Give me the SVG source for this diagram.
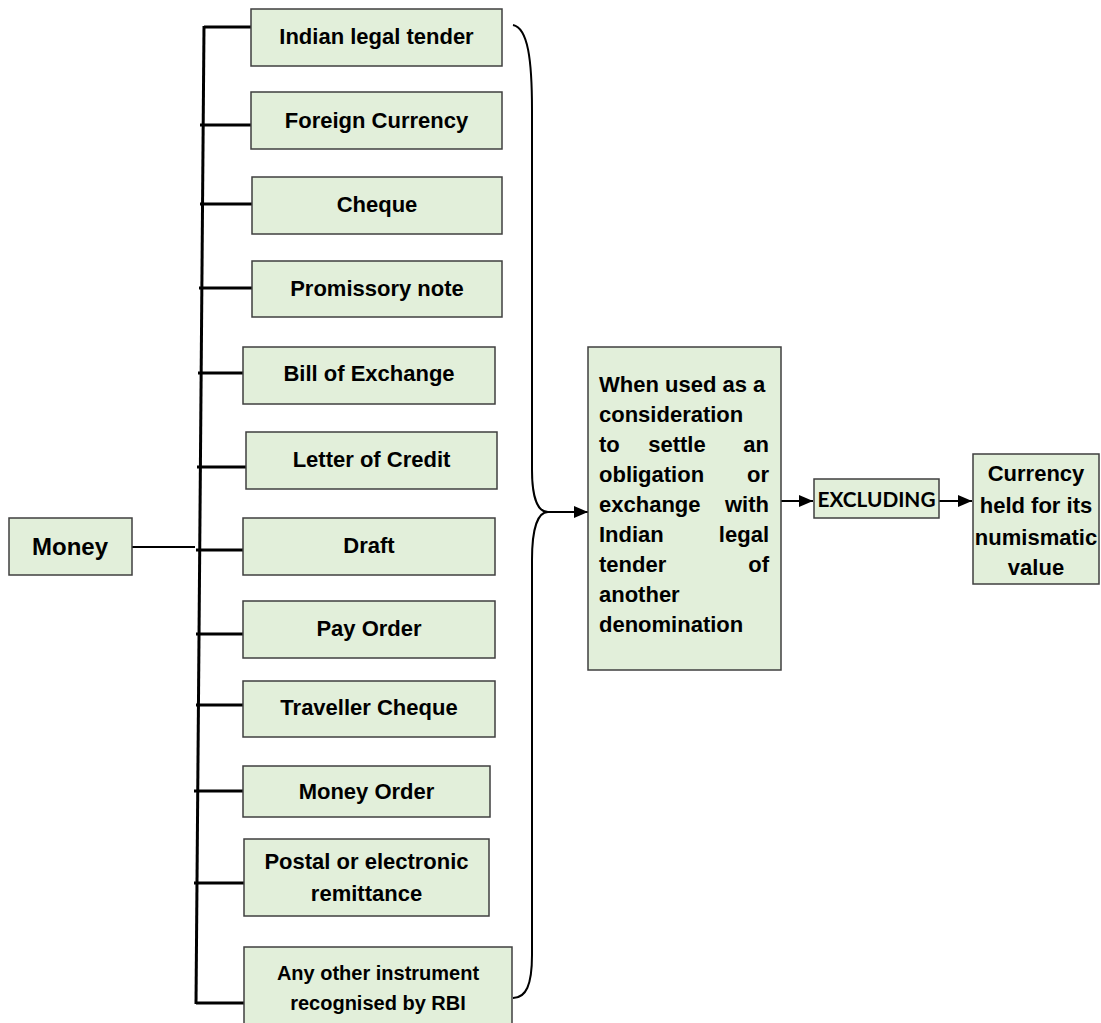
<svg xmlns="http://www.w3.org/2000/svg" width="1101" height="1023" viewBox="0 0 1101 1023">
<style>
.box{fill:#e2efda;stroke:#3f3f3f;stroke-width:1.5}
.t{font-family:"Liberation Sans",Arial,sans-serif;font-weight:bold;font-size:22px;fill:#000}
.c{text-anchor:middle}
.e{text-anchor:end}
.ln{stroke:#000;stroke-width:3;fill:none}
.thin{stroke:#000;stroke-width:2;fill:none}
</style>
<defs>
<marker id="arr" viewBox="0 0 14 12" refX="14" refY="6" markerWidth="14" markerHeight="12" markerUnits="userSpaceOnUse" orient="auto">
<path d="M0,0 L14,6 L0,12 z" fill="#000"/>
</marker>
</defs>
<rect width="1101" height="1023" fill="#fff"/>
<g id="connectors">
<line class="ln" x1="204" y1="26" x2="196" y2="1004"/>
<line class="ln" x1="204" y1="27" x2="251" y2="27"/>
<line class="ln" x1="200" y1="125" x2="251" y2="125"/>
<line class="ln" x1="200" y1="204" x2="252" y2="204"/>
<line class="ln" x1="199" y1="288" x2="252" y2="288"/>
<line class="ln" x1="198" y1="373" x2="243" y2="373"/>
<line class="ln" x1="197" y1="467" x2="246" y2="467"/>
<line class="ln" x1="196" y1="550" x2="243" y2="550"/>
<line class="ln" x1="196" y1="634" x2="243" y2="634"/>
<line class="ln" x1="196" y1="705" x2="243" y2="705"/>
<line class="ln" x1="194" y1="791" x2="243" y2="791"/>
<line class="ln" x1="194" y1="883" x2="244" y2="883"/>
<line class="ln" x1="196" y1="1003" x2="244" y2="1003"/>
<line class="thin" x1="132" y1="547" x2="195" y2="547"/>
<path class="thin" d="M513,25 C528,28 532,60 532,110 L532,470 C532,498 538,512 548,512"/>
<path class="thin" d="M548,512 C538,512 532,528 532,560 L532,955 C532,985 526,998 513,998"/>
<line class="thin" x1="548" y1="512" x2="588" y2="512" marker-end="url(#arr)"/>
<line class="thin" x1="781" y1="501" x2="813" y2="501" marker-end="url(#arr)"/>
<line class="thin" x1="939" y1="501" x2="972" y2="501" marker-end="url(#arr)"/>
</g>
<g id="money"><rect class="box" x="9" y="518" width="123" height="57"/><text class="t c" x="70" y="555" style="font-size:24px">Money</text></g>
<g id="indian-legal-tender"><rect class="box" x="251" y="9" width="251" height="57"/><text class="t c" x="376.5" y="44">Indian legal tender</text></g>
<g id="foreign-currency"><rect class="box" x="251" y="92" width="251" height="57"/><text class="t c" x="376.5" y="128">Foreign Currency</text></g>
<g id="cheque"><rect class="box" x="252" y="177" width="250" height="57"/><text class="t c" x="377" y="212">Cheque</text></g>
<g id="promissory-note"><rect class="box" x="252" y="261" width="250" height="56"/><text class="t c" x="377" y="296">Promissory note</text></g>
<g id="bill-of-exchange"><rect class="box" x="243" y="347" width="252" height="57"/><text class="t c" x="369" y="381">Bill of Exchange</text></g>
<g id="letter-of-credit"><rect class="box" x="246" y="432" width="251" height="57"/><text class="t c" x="371.5" y="467">Letter of Credit</text></g>
<g id="draft"><rect class="box" x="243" y="518" width="252" height="57"/><text class="t c" x="369" y="553">Draft</text></g>
<g id="pay-order"><rect class="box" x="243" y="601" width="252" height="57"/><text class="t c" x="369" y="636">Pay Order</text></g>
<g id="traveller-cheque"><rect class="box" x="243" y="681" width="252" height="56"/><text class="t c" x="369" y="715">Traveller Cheque</text></g>
<g id="money-order"><rect class="box" x="243" y="766" width="247" height="51"/><text class="t c" x="366.5" y="799">Money Order</text></g>
<g id="postal-remittance"><rect class="box" x="244" y="839" width="245" height="77"/><text class="t c" x="366.5" y="869">Postal or electronic</text><text class="t c" x="366.5" y="901">remittance</text></g>
<g id="any-other-instrument"><rect class="box" x="244" y="947" width="268" height="80"/><text class="t c" x="378" y="980" style="font-size:20px">Any other instrument</text><text class="t c" x="378" y="1010" style="font-size:20px">recognised by RBI</text></g>
<g id="condition"><rect class="box" x="588" y="347" width="193" height="323"/>
<text class="t" x="599" y="392">When used as a</text>
<text class="t" x="599" y="422">consideration</text>
<text class="t" x="599" y="452">to</text><text class="t c" x="677" y="452">settle</text><text class="t e" x="769" y="452">an</text>
<text class="t" x="599" y="482">obligation</text><text class="t e" x="769" y="482">or</text>
<text class="t" x="599" y="512">exchange</text><text class="t e" x="769" y="512">with</text>
<text class="t" x="599" y="542">Indian</text><text class="t e" x="769" y="542">legal</text>
<text class="t" x="599" y="572">tender</text><text class="t e" x="769" y="572">of</text>
<text class="t" x="599" y="602">another</text>
<text class="t" x="599" y="632">denomination</text>
</g>
<g id="excluding"><rect class="box" x="814" y="479" width="125" height="39"/><text x="876.5" y="507" text-anchor="middle" textLength="118" lengthAdjust="spacingAndGlyphs" style="font-family:Lato,'Open Sans',sans-serif;font-weight:bold;font-size:21px">EXCLUDING</text></g>
<g id="numismatic"><rect class="box" x="973" y="454" width="126" height="130"/>
<text class="t c" x="1036" y="481">Currency</text>
<text class="t c" x="1036" y="513">held for its</text>
<text class="t c" x="1036" y="545">numismatic</text>
<text class="t c" x="1036" y="575">value</text>
</g>
</svg>
